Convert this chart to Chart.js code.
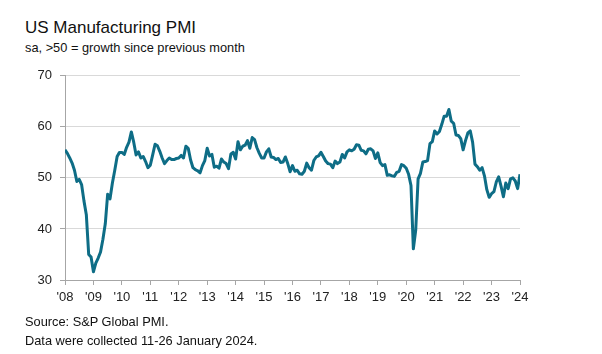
<!DOCTYPE html>
<html>
<head>
<meta charset="utf-8">
<script src="https://cdn.jsdelivr.net/npm/chart.js@4/dist/chart.umd.min.js"></script>
<style>
  body { margin: 0; background: #fff; width: 602px; height: 354px; position: relative; overflow: hidden; font-family: "Liberation Sans", Arial, sans-serif; color: #111; }
  .txt { position: absolute; left: 25px; white-space: nowrap; }
  #title { top: 18px; font-size: 17px; line-height: 20px; }
  #sub { top: 40px; font-size: 12.8px; line-height: 16px; }
  #src { top: 314px; font-size: 12.8px; line-height: 16px; }
  #note { top: 333px; font-size: 12.8px; line-height: 16px; }
  #wrap { position: absolute; left: 0; top: 60px; width: 560px; height: 260px; }
</style>
</head>
<body>
<div class="txt" id="title">US Manufacturing PMI</div>
<div class="txt" id="sub">sa, &gt;50 = growth since previous month</div>
<div id="wrap"><canvas id="pmiChart"></canvas></div>
<div class="txt" id="src">Source: S&amp;P Global PMI.</div>
<div class="txt" id="note">Data were collected 11-26 January 2024.</div>
<script>
// monthly PMI, Jan..Dec of each year
const pmi2008 = [55.5, 54.8, 53.9, 52.9, 51.5, 49.3, 49.7, 48.7, 45.5, 42.8, 35.0, 34.5];
const pmi2009 = [31.6, 33.3, 34.3, 35.5, 38.0, 41.0, 46.8, 45.9, 49.0, 51.5, 54.2, 55.0];
const pmi2010 = [55.0, 54.6, 56.0, 57.0, 59.0, 57.0, 54.5, 55.1, 53.9, 54.2, 53.2, 52.0];
const pmi2011 = [52.5, 54.5, 56.6, 56.3, 55.2, 53.9, 52.8, 53.4, 53.9, 53.6, 53.6, 53.8];
const pmi2012 = [53.9, 54.4, 53.9, 56.2, 55.8, 53.5, 52.0, 51.6, 51.4, 51.0, 52.4, 53.4];
const pmi2013 = [55.8, 54.3, 54.6, 52.1, 52.3, 51.9, 53.7, 53.1, 52.8, 51.8, 54.7, 55.0];
const pmi2014 = [53.7, 57.1, 55.5, 56.2, 56.4, 57.3, 55.8, 57.9, 57.5, 55.9, 54.8, 53.9];
const pmi2015 = [53.9, 55.1, 55.7, 54.1, 54.0, 53.6, 53.8, 53.0, 53.1, 54.1, 52.8, 51.2];
const pmi2016 = [52.4, 51.3, 51.5, 50.8, 50.7, 51.3, 52.9, 52.0, 51.5, 53.4, 54.1, 54.3];
const pmi2017 = [55.0, 54.2, 53.3, 52.8, 52.7, 52.0, 53.3, 52.8, 53.1, 54.6, 53.9, 55.1];
const pmi2018 = [55.5, 55.3, 55.6, 56.5, 56.4, 55.4, 55.3, 54.7, 55.6, 55.7, 55.3, 53.8];
const pmi2019 = [54.9, 53.0, 52.4, 52.6, 50.5, 50.6, 50.4, 50.3, 51.1, 51.3, 52.6, 52.4];
const pmi2020 = [51.9, 50.7, 48.5, 36.1, 39.8, 49.8, 50.9, 53.1, 53.2, 53.4, 56.7, 57.1];
const pmi2021 = [59.2, 58.6, 59.1, 60.5, 62.1, 62.1, 63.4, 61.1, 60.7, 58.4, 58.3, 57.7];
const pmi2022 = [55.5, 57.3, 58.8, 59.2, 57.0, 52.7, 52.2, 51.5, 52.0, 50.4, 47.7, 46.2];
const pmi2023 = [46.9, 47.3, 49.2, 50.2, 48.4, 46.3, 49.0, 47.9, 49.8, 50.0, 49.4, 47.9];
const pmi2024 = [50.7];

const years = [2008, 2009, 2010, 2011, 2012, 2013, 2014, 2015, 2016, 2017, 2018, 2019, 2020, 2021, 2022, 2023, 2024];
const byYear = [pmi2008, pmi2009, pmi2010, pmi2011, pmi2012, pmi2013, pmi2014, pmi2015, pmi2016,
                pmi2017, pmi2018, pmi2019, pmi2020, pmi2021, pmi2022, pmi2023, pmi2024];
const yTicks = [30, 40, 50, 60, 70];

const points = [];
byYear.forEach((vals, i) => {
  vals.forEach((v, m) => points.push({ x: years[i] + m / 12, y: v }));
});

const axisGrey = '#a6a6a6';
const tickFont = { family: '"Liberation Sans", Arial, sans-serif', size: 13 };

new Chart(document.getElementById('pmiChart'), {
  type: 'line',
  data: {
    datasets: [{
      data: points,
      borderColor: '#0e6d86',
      borderWidth: 3,
      pointRadius: 0,
      tension: 0,
      borderJoinStyle: 'round',
      fill: false
    }]
  },
  options: {
    responsive: true,
    maintainAspectRatio: false,
    animation: false,
    layout: { padding: { top: 13, right: 40, bottom: 10, left: 0 } },
    plugins: { legend: { display: false }, tooltip: { enabled: false } },
    scales: {
      x: {
        type: 'linear',
        min: years[0],
        max: years[years.length - 1],
        afterFit: s => { s.height = 30; },
        afterBuildTicks: s => { s.ticks = years.map(v => ({ value: v })); },
        ticks: {
          padding: 5,
          maxRotation: 0,
          autoSkip: false,
          color: '#222',
          font: tickFont,
          callback: v => "'" + String(v).slice(2)
        },
        grid: { drawOnChartArea: false, drawTicks: true, tickLength: 5, tickColor: axisGrey },
        border: { color: axisGrey, width: 1 }
      },
      y: {
        min: 30,
        max: 70,
        afterFit: s => { s.width = 65; },
        afterBuildTicks: s => { s.ticks = yTicks.map(v => ({ value: v })); },
        ticks: { padding: 8, color: '#222', font: tickFont },
        grid: { color: '#d9d9d9', lineWidth: 1, tickLength: 5, tickColor: axisGrey },
        border: { color: axisGrey, width: 1 }
      }
    }
  }
});
</script>
</body>
</html>
